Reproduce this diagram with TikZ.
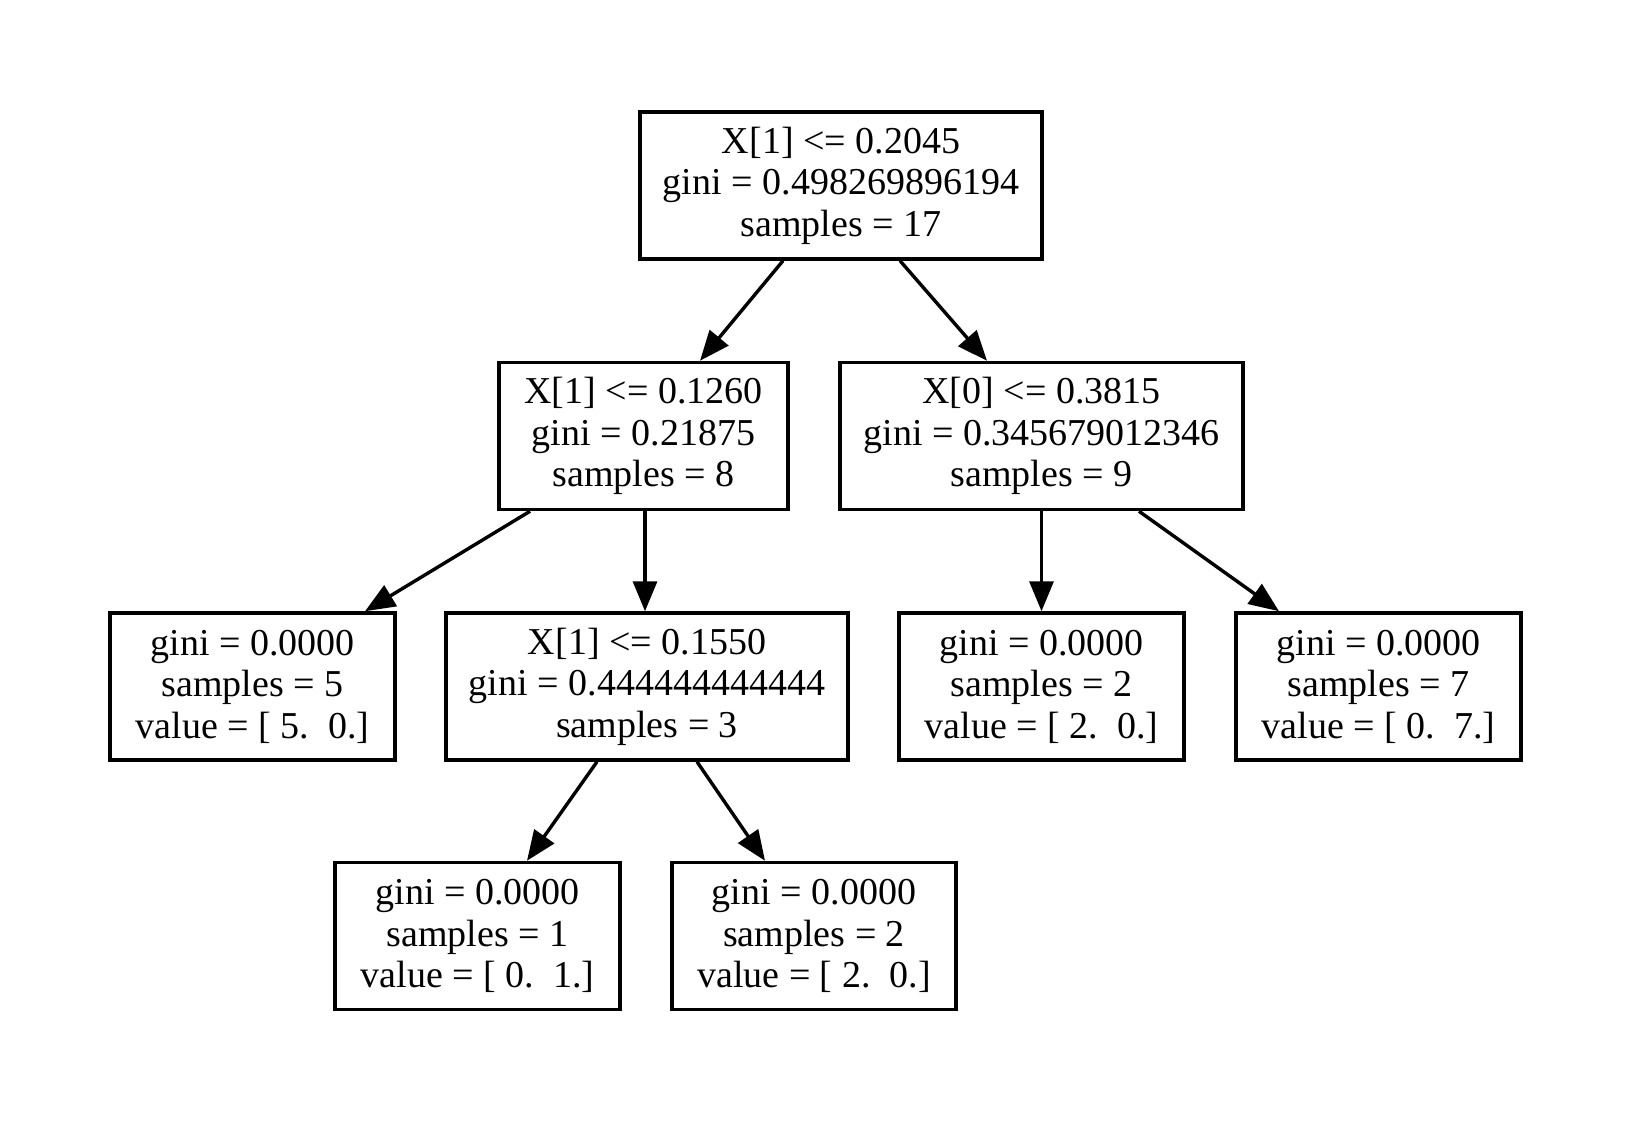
\documentclass[tikz,border=0pt]{standalone}
\usepackage{fontspec}
\setmainfont{Liberation Serif}
\usetikzlibrary{arrows.meta}
\begin{document}
\begin{tikzpicture}[x=0.5pt,y=-0.5pt,
  box/.style={draw=black, line width=1.75pt, fill=white, align=center, inner sep=0pt,
    font=\fontsize{19pt}{20.8pt}\selectfont, minimum height=73.5pt},
  edge/.style={line width=1.7pt, -{Triangle[length=15pt,width=12pt]}}]
\useasboundingbox (0,0) rectangle (1631,1123);
\fill[white] (0,0) rectangle (1631,1123);
\node[box, minimum width=201pt] (root) at (841,185.5) {X[1] <= 0.2045\\gini = 0.498269896194\\samples = 17};
\node[box, minimum width=144.5pt] (l1a) at (643.5,436) {X[1] <= 0.1260\\gini = 0.21875\\samples = 8};
\node[box, minimum width=201.5pt] (l1b) at (1041.5,436) {X[0] <= 0.3815\\gini = 0.345679012346\\samples = 9};
\node[box, minimum width=142.5pt] (leafa) at (252.5,686.5) {gini = 0.0000\\samples = 5\\value = [ 5.\ \ 0.]};
\node[box, minimum width=201pt] (mid) at (647,686.5) {X[1] <= 0.1550\\gini = 0.444444444444\\samples = 3};
\node[box, minimum width=142.5pt] (leafc) at (1041.5,686.5) {gini = 0.0000\\samples = 2\\value = [ 2.\ \ 0.]};
\node[box, minimum width=142.5pt] (leafd) at (1378.5,686.5) {gini = 0.0000\\samples = 7\\value = [ 0.\ \ 7.]};
\node[box, minimum width=142.5pt] (leafe) at (477.5,936) {gini = 0.0000\\samples = 1\\value = [ 0.\ \ 1.]};
\node[box, minimum width=142pt] (leaff) at (814,936) {gini = 0.0000\\samples = 2\\value = [ 2.\ \ 0.]};
\draw[edge] ([xshift=-29pt]root.south) -- ([xshift=28.25pt]l1a.north);
\draw[edge] ([xshift=29.5pt]root.south) -- ([xshift=-27.25pt]l1b.north);
\draw[edge] ([xshift=-56.75pt]l1a.south) -- ([xshift=56.25pt]leafa.north);
\draw[edge] ([xshift=0.75pt]l1a.south) -- ([xshift=-1pt]mid.north);
\draw[edge] ([xshift=-25pt]mid.south) -- ([xshift=24.75pt]leafe.north);
\draw[edge] ([xshift=25pt]mid.south) -- ([xshift=-24.5pt]leaff.north);
\draw[edge] (l1b.south) -- (leafc.north);
\draw[edge] ([xshift=48.75pt]l1b.south) -- ([xshift=-49.75pt]leafd.north);
\end{tikzpicture}
\end{document}
